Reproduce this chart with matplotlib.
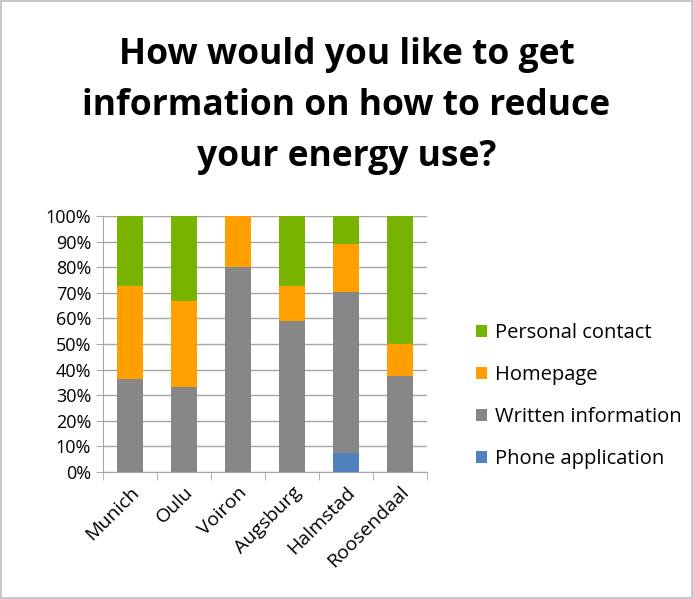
import matplotlib.pyplot as plt
import numpy as np
from matplotlib.ticker import PercentFormatter

plt.rcParams['font.family'] = ['Open Sans', 'DejaVu Sans']

cities = ["Munich", "Oulu", "Voiron", "Augsburg", "Halmstad", "Roosendaal"]
phone = [0, 0, 0, 0, 7.4, 0]
written = [36.4, 33.3, 80.0, 59.1, 63.0, 37.5]
homepage = [36.4, 33.4, 20.0, 13.6, 18.5, 12.5]
personal = [27.2, 33.3, 0, 27.3, 11.1, 50.0]

series = [("Phone application", phone, "#4f81bd"),
          ("Written information", written, "#878787"),
          ("Homepage", homepage, "#ffa000"),
          ("Personal contact", personal, "#77b300")]

fig = plt.figure(figsize=(6.93, 5.99), dpi=100)
fig.patch.set_edgecolor("#c8c8c8")
fig.patch.set_linewidth(1.5)
ax = fig.add_axes([103/693, 1-472/599, 324/693, 256/599])

x = np.arange(len(cities))
bottom = np.zeros(len(cities))
for name, vals, col in series:
    ax.bar(x, vals, 0.48, bottom=bottom, color=col, label=name, zorder=3)
    bottom += np.array(vals)

ax.set_xlim(-0.5, len(cities) - 0.5)
ax.set_ylim(0, 100)
ax.set_yticks(range(0, 101, 10))
ax.yaxis.set_major_formatter(PercentFormatter(decimals=0))
ax.grid(axis="y", color="#a6a6a6", linewidth=1, zorder=0)
for s in ["top", "right"]:
    ax.spines[s].set_visible(False)
for s in ["left", "bottom"]:
    ax.spines[s].set_color("#a6a6a6")
ax.set_xticks(x)
ax.set_xticklabels(cities, rotation=45, ha="right", rotation_mode="anchor", fontsize=14)
ax.set_xticks(np.arange(-0.5, len(cities)), minor=True)
ax.tick_params(axis="x", which="major", length=0, pad=8)
ax.tick_params(axis="x", which="minor", length=6, color="#a6a6a6")
ax.tick_params(axis="y", length=5, color="#a6a6a6", labelsize=13)

fig.text(0.5, 1 - 106/599, "How would you like to get\ninformation on how to reduce\nyour energy use?",
         ha="center", va="center", fontsize=25.5, fontweight="bold", linespacing=1.55)

h, l = ax.get_legend_handles_labels()
fig.legend(h[::-1], l[::-1], loc="center left", bbox_to_anchor=(458/693, 1-396/599),
           frameon=False, fontsize=14.5, handlelength=0.55, handleheight=0.55,
           handletextpad=0.4, labelspacing=1.1)

fig.savefig("out.png", dpi=100)
